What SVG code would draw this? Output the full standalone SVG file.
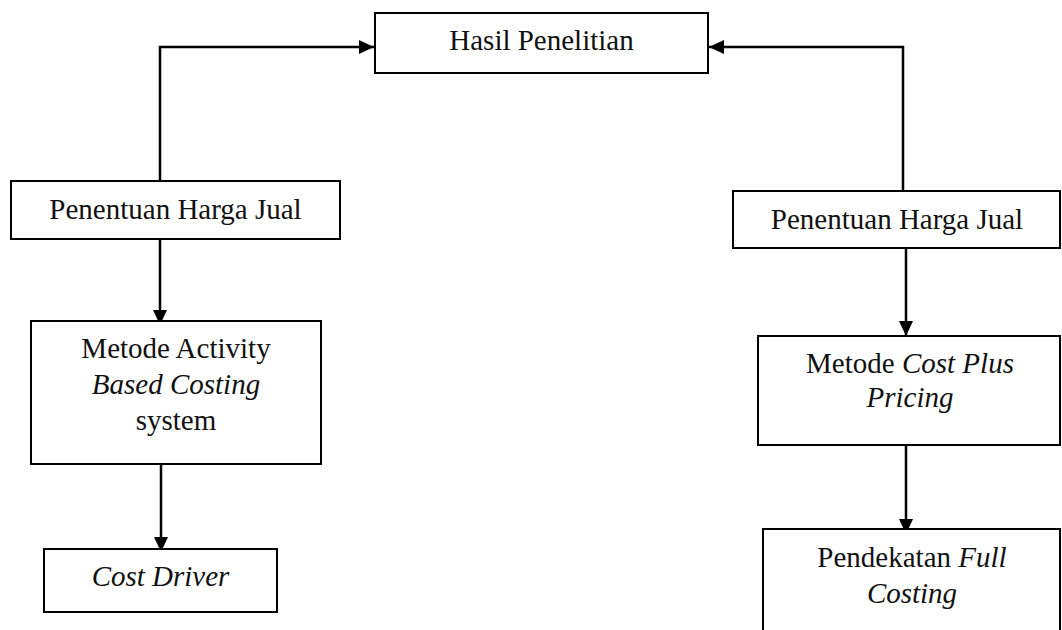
<svg xmlns="http://www.w3.org/2000/svg" width="1062" height="630" viewBox="0 0 1062 630">
<style>
.box{fill:#fff;stroke:#000;stroke-width:2}
.t{font-family:"Liberation Serif","Times New Roman",serif;font-size:29px;fill:#111;text-anchor:middle}
.i{font-style:italic}
.c{fill:none;stroke:#000;stroke-width:2.5}
</style>
<defs>
<marker id="ah" markerUnits="userSpaceOnUse" markerWidth="16" markerHeight="14" refX="15" refY="7" orient="auto">
<path d="M0,0 L15,7 L0,14 z" fill="#000"/>
</marker>
</defs>
<rect width="1062" height="630" fill="#fff"/>
<g id="connectors">
<path class="c" d="M160,181 V47 H374" marker-end="url(#ah)"/>
<path class="c" d="M903,191 V47 H709" marker-end="url(#ah)"/>
<path class="c" d="M160,239 V325" marker-end="url(#ah)"/>
<path class="c" d="M161,458 V552" marker-end="url(#ah)"/>
<path class="c" d="M906,244 V336" marker-end="url(#ah)"/>
<path class="c" d="M906,440 V534" marker-end="url(#ah)"/>
</g>
<g id="hasil">
<rect class="box" x="375" y="13" width="333" height="60"/>
<text class="t" x="541.5" y="50">Hasil Penelitian</text>
</g>
<g id="harga-kiri">
<rect class="box" x="11" y="181" width="329" height="58"/>
<text class="t" x="175.5" y="219">Penentuan Harga Jual</text>
</g>
<g id="abc">
<rect class="box" x="31" y="321" width="290" height="143"/>
<text class="t" x="176" y="358">Metode Activity</text>
<text class="t i" x="176" y="394">Based Costing</text>
<text class="t" x="176" y="430">system</text>
</g>
<g id="cost-driver">
<rect class="box" x="44" y="549" width="233" height="63"/>
<text class="t i" x="160.5" y="586">Cost Driver</text>
</g>
<g id="harga-kanan">
<rect class="box" x="733" y="191" width="327" height="57"/>
<text class="t" x="897" y="229">Penentuan Harga Jual</text>
</g>
<g id="cost-plus">
<rect class="box" x="758" y="336" width="302" height="109"/>
<text class="t" x="910" y="373">Metode <tspan class="i">Cost Plus</tspan></text>
<text class="t i" x="910" y="407">Pricing</text>
</g>
<g id="full-costing">
<rect class="box" x="763" y="529" width="297" height="110"/>
<text class="t" x="912" y="567">Pendekatan <tspan class="i">Full</tspan></text>
<text class="t i" x="912" y="603">Costing</text>
</g>
</svg>
